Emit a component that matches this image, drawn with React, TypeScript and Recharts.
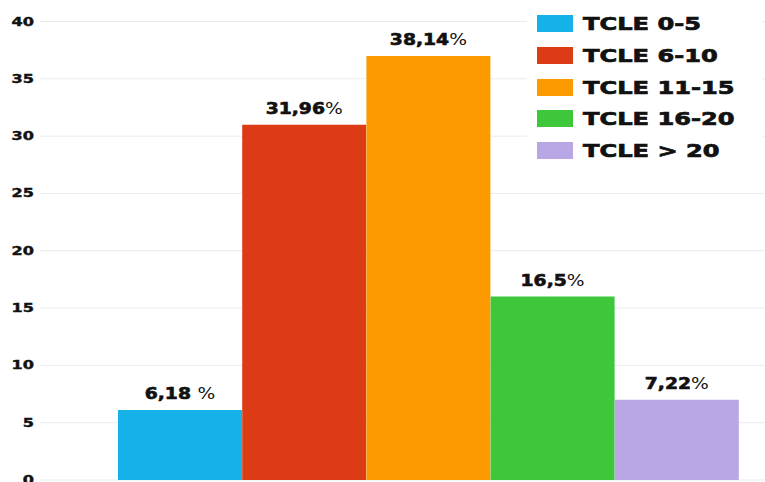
import React from 'react';
import { BarChart, Bar, XAxis, YAxis, CartesianGrid, Cell, LabelList } from 'recharts';

const categories = ['TCLE 0-5', 'TCLE 6-10', 'TCLE 11-15', 'TCLE 16-20', 'TCLE > 20'];
const barValues = [6.1, 31, 37, 16, 7];
const valueLabels = ['6,18 %', '31,96%', '38,14%', '16,5%', '7,22%'];
const yTicks = [0, 5, 10, 15, 20, 25, 30, 35, 40];

const colors = ['#14b2e8', '#dc3b15', '#fd9a00', '#3ec73a', '#b8a7e4'];

const data = categories.map((name, i) => ({ name, value: barValues[i], label: valueLabels[i] }));

const FONT = '"DejaVu Sans", sans-serif';

const YTick = (props: any) => {
  const { x, y, payload } = props;
  return (
    <text
      transform={`translate(${x},${y}) scale(1.4,1)`}
      textAnchor="end"
      dy={4}
      fontFamily={FONT}
      fontWeight={700}
      fontSize={11.5}
      fill="#111"
      stroke="#111"
      strokeWidth={0.4}
    >
      {payload.value}
    </text>
  );
};

const BarLabel = (props: any) => {
  const { x, y, width, value } = props;
  const str = String(value);
  const num = str.replace('%', '');
  return (
    <text
      transform={`translate(${x + width / 2},${y - 11}) scale(1.25,1)`}
      textAnchor="middle"
      fontFamily={FONT}
      fontSize={15}
      fill="#111"
    >
      <tspan fontWeight={700} stroke="#111" strokeWidth={0.6}>{num}</tspan>
      <tspan fontWeight={400}>%</tspan>
    </text>
  );
};

const ChartLegend = () => (
  <div
    style={{
      position: 'absolute',
      left: 527,
      top: 6,
      width: 235,
      height: 160,
      background: '#fff',
    }}
  >
    {categories.map((c, i) => (
      <div
        key={c}
        style={{ position: 'absolute', left: 10, top: 9 + i * 31.8, height: 17, display: 'flex', alignItems: 'center' }}
      >
        <div style={{ width: 36, height: 17, background: colors[i] }} />
        <div
          style={{
            marginLeft: 10,
            fontFamily: FONT,
            fontWeight: 700,
            fontSize: 18,
            color: '#111',
            whiteSpace: 'nowrap',
            WebkitTextStroke: '0.7px #111',
            transform: 'scaleX(1.34)',
            transformOrigin: 'left center',
          }}
        >
          {c}
        </div>
      </div>
    ))}
  </div>
);

const App: React.FC = () => {
  return (
    <div style={{ position: 'absolute', left: 0, top: 0, width: 765, height: 482, background: '#fff' }}>
      <BarChart
        width={765}
        height={482}
        data={data}
        margin={{ top: 21.5, right: 0, bottom: 2, left: 0 }}
        barCategoryGap={0}
      >
        <CartesianGrid vertical={false} stroke="#ebebeb" />
        <XAxis dataKey="name" hide padding={{ left: 78, right: 26 }} />
        <YAxis
          width={40}
          domain={[0, 40]}
          ticks={yTicks}
          interval={0}
          axisLine={false}
          tickLine={false}
          tickSize={0}
          tickMargin={6}
          tick={<YTick />}
        />
        <Bar dataKey="value" isAnimationActive={false}>
          {data.map((d, i) => (
            <Cell key={d.name} fill={colors[i]} />
          ))}
          <LabelList dataKey="label" content={<BarLabel />} />
        </Bar>
      </BarChart>
      <ChartLegend />
    </div>
  );
};

export default App;
